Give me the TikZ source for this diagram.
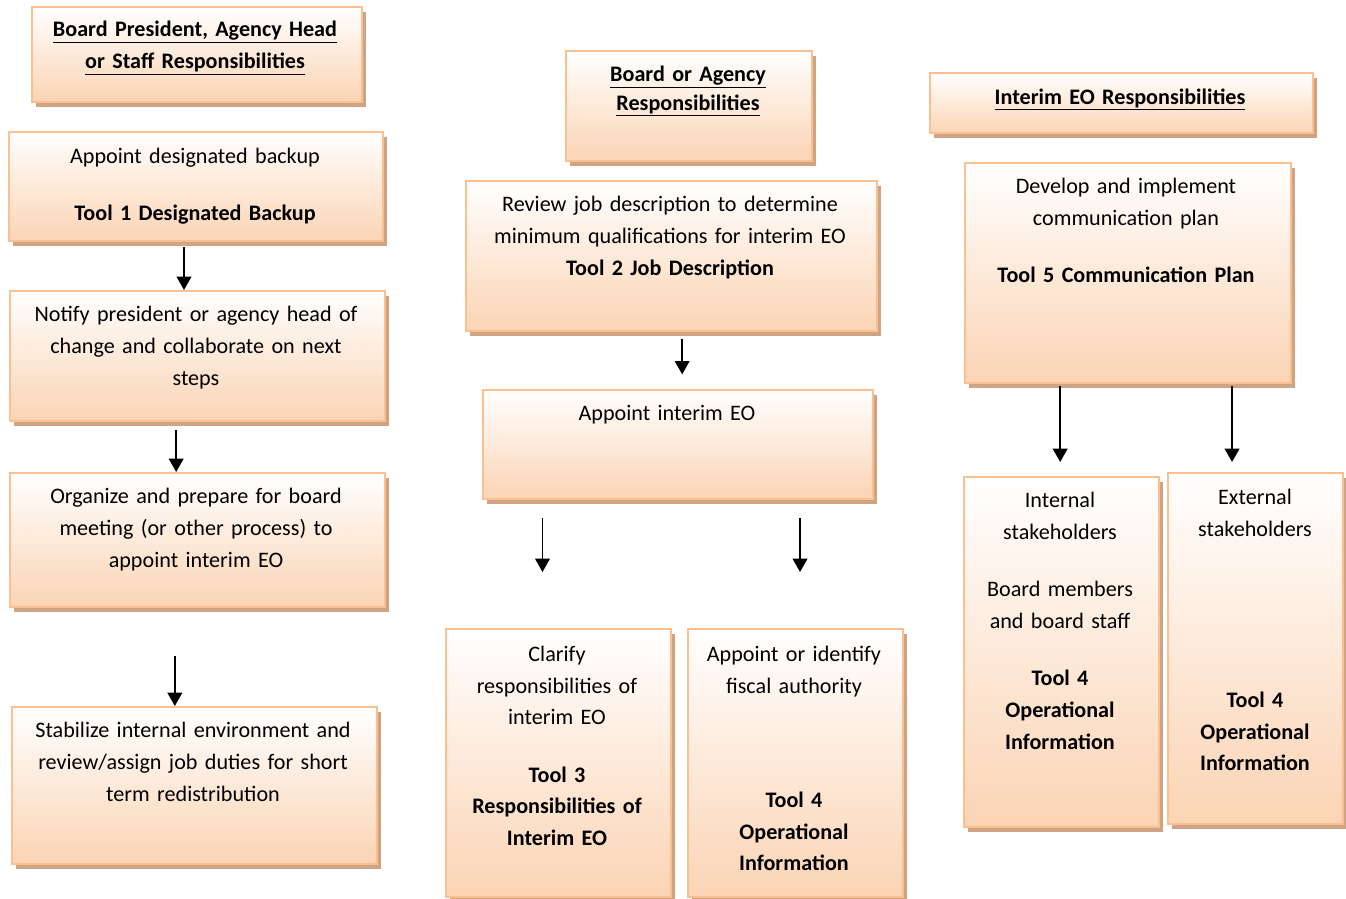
\documentclass[tikz,border=0pt]{standalone}
\usepackage{fontspec}
\setmainfont{Carlito}
\usetikzlibrary{arrows.meta,shadows}
\definecolor{bord}{RGB}{250,192,143}
\definecolor{peach}{RGB}{251,212,180}
\definecolor{shad}{RGB}{206,164,132}
\tikzset{
  box/.style={rectangle, draw=bord, line width=1.5pt, top color=white, bottom color=peach,
    inner sep=0pt, anchor=north west,
    drop shadow={shadow xshift=2.8pt, shadow yshift=-4pt, fill=shad, opacity=1}},
  txt/.style={anchor=base, align=center, inner sep=0pt, font=\fontsize{16.6}{24}\selectfont},
  arr/.style={-{Triangle[width=11pt,length=10pt]}, line width=1.3pt},
}
\newcommand\mkbox[5]{\node[box, minimum width={(#4-#2)*0.75pt}, minimum height={(#5-#3)*0.75pt}] (#1) at (#2,#3) {};}
\begin{document}
\begin{tikzpicture}[x=0.75pt,y=-0.75pt]
\useasboundingbox (0,0) rectangle (1346,899);
% column 1
\mkbox{H1}{31}{6}{361}{101}
\mkbox{B1}{8}{131}{382}{240}
\mkbox{B2}{9}{290}{384}{420}
\mkbox{B3}{9}{472}{384}{606}
\mkbox{B4}{11}{706}{376}{863}
% column 2
\mkbox{H2}{565}{50}{811}{160}
\mkbox{C1}{465}{180}{876}{330}
\mkbox{C2}{482}{389}{872}{498}
\mkbox{C3}{445}{628}{670}{896}
\mkbox{C4}{687}{628}{902}{896}
% column 3
\mkbox{H3}{929}{72}{1312}{132}
\mkbox{D1}{964}{162}{1290}{382}
\mkbox{D2}{963}{476}{1158}{826}
\mkbox{D3}{1167}{472}{1342}{823}

% texts
\node[txt, text width=240pt] (H1t) at (195,37) {\textbf{\underline{Board President, Agency Head}}\\\textbf{\underline{or Staff Responsibilities}}};
\node[txt, text width=275pt] (B1t) at (195,163) {Appoint designated backup\\[18.75pt]\textbf{Tool 1 Designated Backup}};
\node[txt, text width=275pt] (B2t) at (196,321) {Notify president or agency head of\\change and collaborate on next\\steps};
\node[txt, text width=275pt] (B3t) at (196,503) {Organize and prepare for board\\meeting (or other process) to\\appoint interim EO};
\node[txt, text width=270pt] (B4t) at (193,737) {Stabilize internal environment and\\review/assign job duties for short\\term redistribution};

\node[txt, text width=180pt] (H2t) at (688,82) {\textbf{\underline{Board or Agency}}\\[-3pt]\textbf{\underline{Responsibilities}}};
\node[txt, text width=300pt] (C1t) at (670,211) {Review job description to determine\\minimum qualifications for interim EO\\\textbf{Tool 2 Job Description}};
\node[txt, text width=285pt] (C2t) at (667,420) {Appoint interim EO};
\node[txt, text width=165pt] (C3t) at (557,661) {Clarify\\responsibilities of\\[-0.75pt]interim EO\\[19.5pt]\textbf{Tool 3}\\[-0.75pt]\textbf{Responsibilities of}\\\textbf{Interim EO}};
\node[txt, text width=158pt] (C4t) at (794,661) {Appoint or identify\\fiscal authority\\[61.5pt]\textbf{Tool 4}\\\textbf{Operational}\\[-0.75pt]\textbf{Information}};

\node[txt, text width=280pt] (H3t) at (1120,104) {\textbf{\underline{Interim EO Responsibilities}}};
\node[txt, text width=240pt] (D1t) at (1126,193) {Develop and implement\\communication plan\\[18.75pt]\textbf{Tool 5 Communication Plan}};
\node[txt, text width=142pt] (D2t) at (1060,507) {Internal\\stakeholders\\[18.75pt]Board members\\and board staff\\[18.75pt]\textbf{Tool 4}\\\textbf{Operational}\\\textbf{Information}};
\node[txt, text width=128pt] (D3t) at (1255,504) {External\\stakeholders\\[104.25pt]\textbf{Tool 4}\\\textbf{Operational}\\[-0.75pt]\textbf{Information}};

% arrows
\draw[arr, shorten <=3.75pt] ([xshift=-9pt]B1.south) -- ([xshift=-9pt]B1.south |- B2.north);
\draw[arr, shorten <=6pt] ([xshift=-16pt]B2.south) -- ([xshift=-16pt]B2.south |- B3.north);
\draw[arr, shorten <=36pt] ([xshift=-17pt]B3.south) -- ([xshift=-17pt]B3.south |- B4.north);
\draw[arr, shorten <=5.25pt, shorten >=11pt] ([xshift=8pt]C1.south) -- ([xshift=8pt]C1.south |- C2.north);
\draw[arr, shorten <=13.5pt, shorten >=42pt] ([xshift=-12pt]C3.north |- C2.south) -- ([xshift=-12pt]C3.north);
\draw[arr, shorten <=13.5pt, shorten >=42pt] ([xshift=3.4pt]C4.north |- C2.south) -- ([xshift=3.4pt]C4.north);
\draw[arr, shorten <=1.5pt, shorten >=10.5pt] ([xshift=-1pt]D2.north |- D1.south) -- ([xshift=-1pt]D2.north);
\draw[arr, shorten <=1.5pt, shorten >=7.5pt] ([xshift=-17.6pt]D3.north |- D1.south) -- ([xshift=-17.6pt]D3.north);
\end{tikzpicture}
\end{document}
